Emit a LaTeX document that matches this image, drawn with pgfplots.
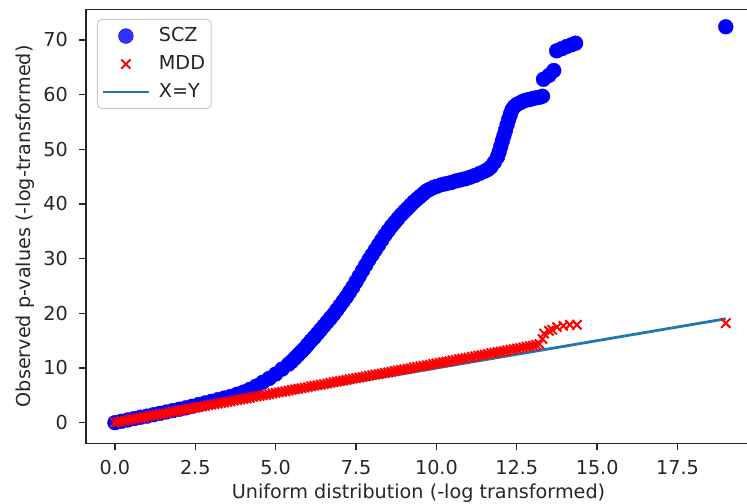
\documentclass[border=0pt]{standalone}
\usepackage{fontspec}
\setmainfont{DejaVu Sans}
\usepackage{pgfplots}
\pgfplotsset{compat=1.18}
\definecolor{tabblue}{HTML}{1F77B4}
\definecolor{txt}{HTML}{262626}
\begin{document}
\fontsize{19.2}{23}\selectfont
\begin{tikzpicture}
\begin{axis}[name=ax, scale only axis, width=670.3pt, height=434pt,
  xmin=-0.9, xmax=19.95, ymin=-3.77, ymax=75.6,
  xtick={0,2.5,5,7.5,10,12.5,15,17.5},
  xticklabels={0.0,2.5,5.0,7.5,10.0,12.5,15.0,17.5},
  ytick={0,10,20,30,40,50,60,70},
  /pgf/number format/assume math mode=true,
  tick align=outside, tick pos=left,
  major tick length=6.7pt,
  every tick/.style={txt, line width=1.4pt},
  axis line style={txt, line width=1.4pt},
  tick label style={font=\fontsize{19.2}{23}\selectfont, text=txt},
  xticklabel shift=3.9pt,
  yticklabel shift=4.9pt,
  xlabel={Uniform distribution (-log transformed)},
  ylabel={Observed p-values (-log-transformed)},
  label style={font=\fontsize{19.2}{23}\selectfont, text=txt},
  xlabel style={at={(axis description cs:0.496,-0.1145)}, anchor=center},
  ylabel style={at={(axis description cs:-0.091,0.5)}, anchor=center},
  legend cell align=left,
  legend style={at={(axis description cs:0,1)}, anchor=north west, xshift=11pt, yshift=-9.7pt,
    draw=black!20, line width=1pt, rounded corners=4pt, fill=white, fill opacity=0.8, text opacity=1,
    font=\fontsize{19.2}{23}\selectfont, text=txt, row sep=7pt, inner xsep=4pt, inner ysep=6pt},
  legend image code/.code={\draw[mark repeat=2,mark phase=2] plot coordinates {(0pt,0pt) (23pt,0pt) (46pt,0pt)}; \path[draw=none,fill=none] (0pt,0pt) rectangle (54pt,0pt);},
]
\addplot[only marks, mark=*, mark size=7.4pt, blue, mark options={fill=blue, draw=blue, line width=0.4pt}] coordinates {
(0.0,0.0) (0.2,0.25) (0.4,0.5) (0.6,0.75) (0.8,1.0) (1.0,1.2) (1.2,1.45) (1.4,1.7) (1.6,1.95) (1.8,2.2)
(2.0,2.45) (2.2,2.7) (2.4,3.0) (2.6,3.3) (2.8,3.6) (3.0,3.9) (3.2,4.2) (3.4,4.5) (3.6,4.8) (3.8,5.2)
(4.0,5.6) (4.2,6.1) (4.4,6.7) (4.6,7.4) (4.8,8.1) (5.0,8.9) (5.2,9.8) (5.4,10.7) (5.5,11.2) (5.6,11.8)
(5.7,12.4) (5.8,13.0) (5.9,13.6) (6.0,14.3) (6.1,15.0) (6.2,15.6) (6.3,16.3) (6.4,17.0) (6.5,17.7) (6.6,18.4)
(6.7,19.1) (6.8,19.8) (6.9,20.6) (7.0,21.4) (7.1,22.2) (7.2,23.0) (7.3,23.9) (7.4,24.8) (7.5,25.8) (7.6,26.8)
(7.7,27.8) (7.8,28.8) (7.9,29.8) (8.0,30.7) (8.1,31.6) (8.2,32.5) (8.3,33.4) (8.4,34.3) (8.5,35.1) (8.6,35.9)
(8.7,36.6) (8.8,37.3) (8.9,38.0) (9.0,38.6) (9.1,39.2) (9.2,39.8) (9.3,40.4) (9.4,40.9) (9.5,41.4) (9.6,41.9)
(9.7,42.4) (9.8,42.7) (9.9,43.0) (10.0,43.2) (10.15,43.5) (10.3,43.7) (10.45,43.9) (10.6,44.2) (10.75,44.4) (10.9,44.6)
(11.05,44.9) (11.2,45.2) (11.35,45.6) (11.5,46.0) (11.6,46.3) (11.7,46.8) (11.8,47.6) (11.9,48.6) (11.95,49.5) (12.0,50.5)
(12.05,51.5) (12.1,52.5) (12.15,53.5) (12.2,54.5) (12.25,55.5) (12.3,56.4) (12.35,57.2) (12.42,57.8) (12.5,58.2) (12.6,58.5)
(12.7,58.8) (12.8,59.0) (12.9,59.1) (13.0,59.3) (13.1,59.4) (13.2,59.5) (13.3,59.7)
(13.33,62.8) (13.5,63.5) (13.65,64.4)
(13.74,68.0) (13.9,68.4) (14.05,68.8) (14.2,69.1) (14.33,69.4)
(19.0,72.4)
};
\addlegendentry{SCZ}
\addplot[only marks, mark=x, mark size=6.5pt, red, line width=2pt] coordinates {
(0.0,0.0) (0.1,0.15) (0.2,0.25) (0.3,0.35) (0.4,0.45) (0.5,0.6) (0.6,0.7) (0.7,0.8) (0.8,0.9) (0.9,1.0)
(1.0,1.1) (1.1,1.25) (1.2,1.35) (1.3,1.45) (1.4,1.55) (1.5,1.65) (1.6,1.75) (1.7,1.9) (1.8,2.0) (1.9,2.1)
(2.0,2.2) (2.1,2.3) (2.2,2.4) (2.3,2.55) (2.4,2.65) (2.5,2.75) (2.6,2.85) (2.7,2.95) (2.8,3.05) (2.9,3.2)
(3.0,3.3) (3.1,3.4) (3.2,3.5) (3.3,3.6) (3.4,3.7) (3.5,3.8) (3.6,3.9) (3.7,4.05) (3.8,4.15) (3.9,4.25)
(4.0,4.35) (4.1,4.45) (4.2,4.55) (4.3,4.7) (4.4,4.8) (4.5,4.9) (4.6,5.0) (4.7,5.1) (4.8,5.2) (4.9,5.35)
(5.0,5.45) (5.1,5.55) (5.2,5.65) (5.3,5.75) (5.4,5.85) (5.5,6.0) (5.6,6.1) (5.7,6.2) (5.8,6.3) (5.9,6.4)
(6.0,6.5) (6.1,6.65) (6.2,6.75) (6.3,6.85) (6.4,6.95) (6.5,7.05) (6.6,7.15) (6.7,7.3) (6.8,7.4) (6.9,7.5)
(7.0,7.6) (7.1,7.7) (7.2,7.8) (7.3,7.95) (7.4,8.05) (7.5,8.15) (7.6,8.25) (7.7,8.35) (7.8,8.45) (7.9,8.6)
(8.0,8.7) (8.1,8.8) (8.2,8.9) (8.3,9.0) (8.4,9.1) (8.5,9.2) (8.6,9.3) (8.7,9.45) (8.8,9.55) (8.9,9.65)
(9.0,9.75) (9.1,9.85) (9.2,9.95) (9.3,10.1) (9.4,10.2) (9.5,10.3) (9.6,10.4) (9.7,10.5) (9.8,10.6) (9.9,10.75)
(10.0,10.85) (10.1,10.95) (10.2,11.05) (10.3,11.15) (10.4,11.25) (10.5,11.4) (10.6,11.5) (10.7,11.6) (10.8,11.7) (10.9,11.8)
(11.0,11.9) (11.1,12.05) (11.2,12.15) (11.3,12.25) (11.4,12.35) (11.5,12.45) (11.6,12.55) (11.7,12.7) (11.8,12.8) (11.9,12.9)
(12.0,13.0) (12.1,13.1) (12.2,13.2) (12.3,13.35) (12.4,13.45) (12.5,13.55) (12.6,13.65) (12.7,13.75) (12.8,13.9) (12.9,14.0)
(13.0,14.1) (13.1,14.25) (13.2,14.4)
(13.3,15.3) (13.35,16.3) (13.5,16.8) (13.6,17.0) (13.75,17.5) (13.95,17.7) (14.15,17.9) (14.37,17.9)
(19.0,18.2)
};
\addlegendentry{MDD}
\addplot[tabblue, line width=2.8pt, no marks] coordinates {(0,0) (19,19)};
\addlegendentry{X=Y}
\end{axis}
\pgfresetboundingbox
\useasboundingbox ([xshift=-86pt,yshift=-60.7pt]ax.south west) rectangle ([xshift=661pt,yshift=9.3pt]ax.north west);
\end{tikzpicture}
\end{document}
